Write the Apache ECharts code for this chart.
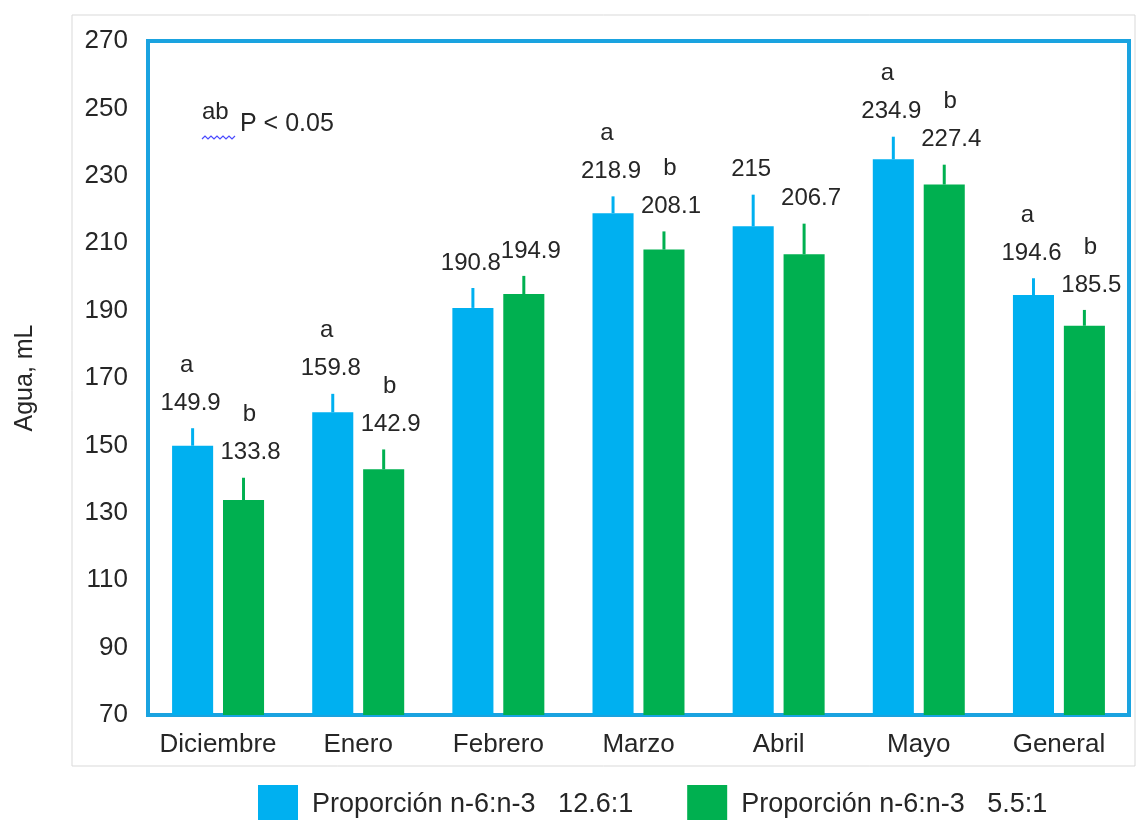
<!DOCTYPE html>
<html>
<head>
<meta charset="utf-8">
<script src="https://cdn.jsdelivr.net/npm/echarts@6/dist/echarts.min.js"></script>
<style>
  html, body { margin: 0; padding: 0; background: #ffffff; }
  #chart { width: 1140px; height: 820px; }
</style>
</head>
<body>
<div id="chart"></div>
<script>
// Water intake per month for two n-6:n-3 ratios
const categories = ['Diciembre', 'Enero', 'Febrero', 'Marzo', 'Abril', 'Mayo', 'General'];
const seriesNames = ['Proporción n-6:n-3   12.6:1', 'Proporción n-6:n-3   5.5:1'];
const valuesHigh = [149.9, 159.8, 190.8, 218.9, 215, 234.9, 194.6];
const valuesLow = [133.8, 142.9, 194.9, 208.1, 206.7, 227.4, 185.5];
const errorsHigh = [5.2, 5.5, 5.9, 5.0, 9.4, 6.7, 5.0];
const errorsLow = [6.6, 5.9, 5.4, 5.4, 9.1, 5.9, 4.7];
const lettersHigh = ['a', 'a', '', 'a', '', 'a', 'a'];
const lettersLow = ['b', 'b', '', 'b', '', 'b', 'b'];
const yTicks = { min: 70, max: 270, interval: 20 };

const BLUE = '#00b0f0';
const GREEN = '#00b050';
const TEXT = '#262626';
const FONT = '"Liberation Sans", Arial, sans-serif';

const BAR_W = 0.293;   // fraction of category band
const BAR_GAP = 0.24;  // fraction of bar width
const SHIFT = BAR_W * (1 + BAR_GAP) / 2;

function errorSeries(name, values, errors, letters, color, side, labelDx, letterDx) {
  return {
    type: 'custom',
    name: name + ' err',
    z: 5,
    silent: true,
    data: values.map((v, i) => [i, v, errors[i]]),
    encode: { x: 0, y: 1 },
    renderItem: function (params, api) {
      const i = api.value(0);
      const v = api.value(1);
      const e = api.value(2);
      const band = api.size([1, 0])[0];
      const top = api.coord([i, v + e]);
      const base = api.coord([i, v]);
      const cx = base[0] + side * SHIFT * band;
      const children = [
        {
          type: 'line',
          shape: { x1: cx, y1: base[1], x2: cx, y2: top[1] },
          style: { stroke: color, lineWidth: 3 }
        },
        {
          type: 'text',
          style: {
            text: String(values[params.dataIndex]),
            x: cx + labelDx, y: top[1] - 25,
            align: 'center', verticalAlign: 'middle',
            fill: TEXT, font: '24px ' + FONT
          }
        }
      ];
      const letter = letters[params.dataIndex];
      if (letter) {
        children.push({
          type: 'text',
          style: {
            text: letter,
            x: cx + letterDx, y: top[1] - 63,
            align: 'center', verticalAlign: 'middle',
            fill: TEXT, font: '24px ' + FONT
          }
        });
      }
      return { type: 'group', children: children };
    }
  };
}

const chart = echarts.init(document.getElementById('chart'), null, { renderer: 'canvas' });

chart.setOption({
  animation: false,
  backgroundColor: '#ffffff',
  grid: {
    left: 148, right: 11, top: 41, bottom: 105,
    show: true, borderColor: '#1aa3e0', borderWidth: 4, backgroundColor: 'transparent'
  },
  legend: {
    left: 253, top: 780,
    itemWidth: 40, itemHeight: 40, itemGap: 54,
    icon: 'rect',
    data: seriesNames,
    textStyle: { fontSize: 27, fontFamily: FONT, color: TEXT, padding: [0, 0, 0, 9] }
  },
  xAxis: {
    type: 'category',
    data: categories,
    axisLine: { show: false },
    axisTick: { show: false },
    axisLabel: { interval: 0, fontSize: 26, fontFamily: FONT, color: TEXT, margin: 17 }
  },
  yAxis: {
    type: 'value',
    min: yTicks.min, max: yTicks.max, interval: yTicks.interval,
    name: 'Agua, mL',
    nameLocation: 'middle',
    nameRotate: 90,
    nameGap: 110,
    nameTextStyle: { fontSize: 25, fontFamily: FONT, color: TEXT },
    axisLine: { show: false },
    axisTick: { show: false },
    splitLine: { show: false },
    axisLabel: { fontSize: 26, fontFamily: FONT, color: TEXT, margin: 20 }
  },
  series: [
    {
      type: 'bar', name: seriesNames[0], data: valuesHigh,
      barWidth: (BAR_W * 100) + '%', barGap: (BAR_GAP * 100) + '%',
      itemStyle: { color: BLUE }
    },
    {
      type: 'bar', name: seriesNames[1], data: valuesLow,
      barWidth: (BAR_W * 100) + '%', barGap: (BAR_GAP * 100) + '%',
      itemStyle: { color: GREEN }
    },
    errorSeries(seriesNames[0], valuesHigh, errorsHigh, lettersHigh, BLUE, -1, -2, -6),
    errorSeries(seriesNames[1], valuesLow, errorsLow, lettersLow, GREEN, 1, 7, 6)
  ],
  graphic: [
    {
      type: 'rect', z: -1, silent: true,
      shape: { x: 72, y: 15, width: 1063, height: 751 },
      style: { fill: 'none', stroke: '#d9d9d9', lineWidth: 1 }
    },
    {
      type: 'text', left: 202, top: 100,
      style: { text: 'ab', font: '24px ' + FONT, fill: TEXT }
    },
    {
      type: 'polyline', silent: true,
      shape: { points: [[202, 139], [205, 136], [208, 139], [211, 136], [214, 139], [217, 136], [220, 139], [223, 136], [226, 139], [229, 136], [232, 139], [235, 136]] },
      style: { stroke: '#4a4aff', lineWidth: 1.2, fill: 'none' }
    },
    {
      type: 'text', left: 240, top: 112,
      style: { text: 'P < 0.05', font: '25px ' + FONT, fill: TEXT }
    }
  ]
});
</script>
</body>
</html>
